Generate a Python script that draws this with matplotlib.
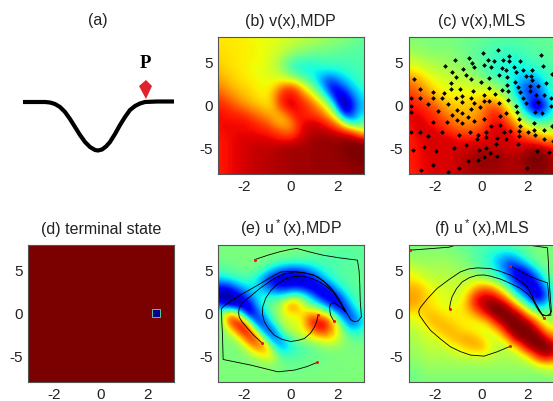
import numpy as np
import matplotlib
matplotlib.use('Agg')
import matplotlib.pyplot as plt

plt.rcParams['font.family'] = ['Liberation Sans', 'DejaVu Sans']
plt.rcParams['mathtext.default'] = 'regular'

FIG_W, FIG_H = 553, 401
x_range = [-np.pi, np.pi]
y_range = [-8, 8]

# cross section in panel (a), picture units
well_x = [23, 45, 50, 55, 60, 65, 70, 75, 80, 85, 90, 95, 98, 102, 106, 110, 115, 120, 125, 130, 135, 140, 145, 157, 174]
well_y = [102, 102, 102.5, 104, 107, 112, 119, 127, 135, 142, 147, 150, 150.5, 149.5, 146.5, 142, 134, 125, 117, 110,
          106, 103.5, 102, 101.5, 101.5]
marker_x = [139, 146, 152, 146]
marker_y = [86, 80, 86, 99]

# value fields, rows from y=8 down to y=-8, 25 columns from -pi to pi
v_mdp = [
    [.66, .66, .66, .66, .65, .65, .64, .64, .63, .63, .62, .61, .60, .59, .58, .57, .56, .55, .54, .53, .52, .51, .50, .48, .47],
    [.67, .67, .66, .66, .66, .65, .65, .64, .63, .62, .61, .59, .58, .56, .55, .54, .53, .52, .51, .50, .49, .48, .47, .46, .46],
    [.68, .67, .67, .66, .66, .65, .65, .64, .63, .61, .59, .56, .53, .50, .49, .48, .47, .47, .47, .46, .46, .45, .45, .45, .45],
    [.69, .68, .67, .66, .66, .65, .64, .64, .62, .59, .55, .49, .44, .42, .41, .40, .41, .42, .43, .43, .43, .44, .44, .44, .44],
    [.71, .69, .68, .67, .66, .65, .64, .63, .62, .60, .57, .52, .46, .41, .38, .37, .36, .36, .36, .37, .38, .40, .41, .43, .44],
    [.74, .72, .70, .68, .67, .66, .65, .64, .63, .63, .63, .62, .60, .56, .50, .44, .36, .28, .20, .22, .28, .33, .38, .41, .43],
    [.78, .76, .73, .71, .69, .68, .66, .65, .65, .68, .76, .84, .86, .80, .68, .58, .48, .36, .20, .10, .14, .22, .30, .36, .40],
    [.84, .81, .78, .75, .72, .70, .68, .66, .66, .72, .84, .89, .90, .88, .82, .74, .64, .52, .38, .18, .04, .08, .20, .30, .36],
    [.88, .86, .84, .81, .78, .75, .72, .70, .68, .70, .82, .90, .92, .90, .88, .84, .78, .70, .58, .40, .12, .00, .12, .26, .32],
    [.90, .89, .88, .87, .86, .83, .80, .77, .74, .72, .72, .78, .86, .90, .88, .86, .84, .80, .72, .60, .36, .14, .18, .30, .36],
    [.90, .90, .90, .90, .90, .89, .87, .84, .82, .76, .72, .71, .76, .86, .90, .92, .92, .90, .86, .80, .70, .50, .38, .40, .46],
    [.89, .90, .90, .90, .90, .90, .90, .89, .88, .86, .83, .80, .80, .86, .92, .94, .95, .95, .94, .92, .90, .88, .82, .72, .62],
    [.89, .89, .90, .91, .92, .92, .92, .92, .92, .91, .90, .90, .90, .92, .94, .96, .97, .98, .98, .98, .98, .98, .99, .98, .96],
    [.89, .89, .90, .91, .92, .93, .94, .94, .94, .95, .96, .96, .97, .97, .97, .97, .98, .98, .98, .98, .99, 1.0, 1.0, 1.0, 1.0],
    [.89, .89, .90, .91, .92, .93, .94, .94, .95, .95, .96, .96, .97, .97, .97, .97, .98, .98, .98, .98, .98, .99, 1.0, 1.0, 1.0],
    [.89, .89, .90, .91, .92, .93, .94, .94, .95, .95, .96, .96, .97, .97, .97, .97, .98, .98, .98, .98, .98, .98, .99, .99, 1.0],
    [.88, .89, .90, .91, .92, .93, .94, .94, .95, .95, .96, .96, .96, .97, .97, .97, .97, .97, .97, .97, .97, .97, .98, .98, .98],
]
v_mls = [
    [.50, .50, .50, .50, .50, .50, .50, .50, .49, .49, .48, .48, .47, .47, .46, .46, .46, .46, .46, .46, .47, .47, .47, .47, .47],
    [.52, .52, .52, .51, .50, .50, .50, .50, .49, .48, .47, .47, .46, .45, .44, .44, .43, .44, .44, .45, .45, .46, .46, .47, .47],
    [.56, .55, .54, .53, .52, .52, .52, .51, .50, .49, .48, .46, .45, .44, .42, .42, .41, .41, .42, .43, .44, .45, .45, .46, .46],
    [.60, .60, .58, .57, .56, .55, .54, .53, .52, .51, .50, .48, .46, .44, .41, .40, .39, .38, .38, .40, .42, .43, .44, .45, .45],
    [.68, .66, .64, .61, .59, .58, .57, .56, .55, .53, .52, .49, .46, .43, .41, .39, .38, .37, .36, .36, .36, .38, .41, .43, .44],
    [.76, .74, .71, .67, .64, .62, .61, .60, .59, .58, .57, .55, .53, .50, .47, .44, .42, .38, .33, .30, .28, .30, .36, .41, .43],
    [.82, .80, .76, .72, .68, .65, .63, .62, .62, .62, .62, .60, .60, .60, .56, .52, .46, .38, .28, .20, .16, .20, .30, .38, .42],
    [.86, .85, .82, .78, .74, .70, .67, .66, .66, .66, .66, .66, .68, .68, .66, .62, .54, .44, .34, .26, .20, .18, .26, .36, .42],
    [.90, .88, .87, .85, .82, .77, .73, .70, .69, .69, .70, .72, .76, .80, .80, .76, .66, .54, .42, .28, .12, .03, .10, .28, .40],
    [.90, .91, .90, .88, .86, .83, .78, .75, .73, .72, .72, .74, .78, .84, .88, .86, .76, .66, .54, .42, .32, .20, .28, .36, .42],
    [.90, .92, .92, .90, .88, .87, .84, .80, .77, .76, .76, .78, .80, .86, .90, .90, .86, .78, .68, .58, .52, .48, .46, .46, .48],
    [.88, .90, .92, .92, .92, .90, .88, .86, .84, .82, .82, .84, .86, .90, .92, .93, .92, .88, .82, .76, .70, .66, .62, .60, .60],
    [.88, .90, .90, .92, .92, .92, .92, .92, .90, .90, .90, .90, .90, .92, .92, .92, .92, .92, .90, .88, .86, .82, .78, .76, .76],
    [.88, .89, .90, .92, .92, .92, .92, .92, .92, .92, .93, .94, .94, .94, .94, .94, .93, .92, .92, .94, .96, .98, .96, .92, .90],
    [.88, .89, .90, .91, .92, .92, .92, .92, .94, .95, .96, .97, .98, .98, .98, .97, .96, .96, .97, .98, 1.0, 1.0, 1.0, .98, .96],
    [.88, .89, .90, .91, .92, .92, .92, .92, .94, .95, .96, .97, .98, .98, .98, .97, .96, .96, .96, .98, 1.0, 1.0, 1.0, .98, .96],
    [.87, .88, .90, .90, .92, .92, .92, .93, .94, .95, .96, .96, .96, .96, .96, .96, .96, .96, .96, .96, .97, .98, .98, .97, .96],
]
u_mdp = [
    [.50, .50, .50, .50, .50, .50, .50, .50, .50, .50, .50, .50, .50, .49, .49, .48, .48, .48, .48, .47, .47, .47, .47, .47, .47],
    [.50, .50, .50, .50, .50, .50, .50, .50, .50, .50, .50, .50, .50, .49, .49, .48, .47, .46, .46, .45, .45, .45, .45, .46, .46],
    [.48, .48, .49, .49, .50, .50, .50, .49, .48, .46, .44, .43, .42, .42, .42, .42, .43, .44, .44, .45, .45, .45, .46, .46, .47],
    [.44, .45, .46, .47, .48, .48, .47, .44, .38, .30, .24, .19, .16, .17, .20, .26, .32, .37, .41, .43, .45, .46, .46, .47, .47],
    [.32, .34, .37, .40, .42, .42, .38, .30, .18, .10, .06, .03, .02, .03, .05, .09, .16, .26, .34, .40, .43, .45, .46, .47, .47],
    [.12, .10, .14, .22, .30, .34, .36, .32, .24, .18, .14, .14, .16, .16, .13, .08, .05, .07, .14, .26, .36, .42, .45, .46, .47],
    [.02, .00, .02, .05, .12, .22, .32, .38, .40, .40, .40, .42, .48, .50, .44, .34, .22, .10, .05, .08, .20, .33, .41, .45, .46],
    [.22, .12, .06, .02, .02, .08, .22, .36, .44, .50, .54, .68, .76, .74, .60, .50, .44, .36, .24, .10, .08, .20, .34, .42, .45],
    [.42, .62, .72, .62, .36, .08, .12, .26, .38, .48, .54, .62, .66, .66, .68, .74, .72, .66, .58, .42, .24, .14, .22, .34, .42],
    [.46, .60, .86, .90, .88, .58, .24, .14, .24, .40, .52, .58, .60, .62, .68, .84, .92, .94, .86, .70, .50, .30, .20, .26, .36],
    [.48, .52, .62, .78, .92, .90, .66, .34, .18, .20, .38, .52, .58, .60, .64, .72, .82, .88, .82, .72, .60, .46, .38, .38, .42],
    [.50, .50, .52, .56, .68, .84, .88, .72, .44, .26, .24, .34, .42, .50, .54, .58, .60, .64, .66, .64, .58, .52, .48, .47, .47],
    [.50, .50, .50, .50, .54, .62, .74, .78, .72, .50, .34, .32, .38, .42, .44, .46, .48, .50, .52, .52, .52, .50, .50, .50, .50],
    [.50, .50, .50, .50, .50, .52, .56, .60, .64, .62, .50, .44, .44, .45, .46, .47, .48, .48, .49, .49, .50, .50, .50, .50, .50],
    [.50, .50, .50, .50, .50, .50, .50, .51, .52, .52, .50, .49, .48, .48, .48, .49, .49, .49, .50, .50, .50, .50, .50, .50, .50],
    [.50, .50, .50, .50, .50, .50, .50, .50, .50, .50, .49, .49, .49, .49, .49, .49, .49, .50, .50, .50, .50, .50, .50, .50, .50],
    [.50, .50, .50, .50, .50, .50, .50, .50, .50, .50, .50, .50, .50, .50, .50, .50, .50, .50, .50, .50, .50, .50, .50, .50, .50],
]
u_mls = [
    [.50, .50, .50, .50, .50, .50, .50, .49, .48, .47, .46, .45, .44, .44, .44, .44, .45, .46, .47, .48, .49, .50, .50, .50, .50],
    [.52, .52, .52, .52, .52, .52, .52, .51, .50, .49, .47, .45, .43, .41, .38, .36, .34, .36, .40, .44, .47, .49, .50, .50, .50],
    [.56, .55, .54, .54, .54, .54, .54, .53, .52, .51, .49, .46, .44, .40, .34, .28, .22, .20, .26, .34, .42, .47, .49, .50, .50],
    [.62, .60, .58, .57, .56, .56, .56, .55, .54, .53, .52, .49, .46, .44, .40, .32, .22, .12, .08, .12, .22, .34, .44, .48, .50],
    [.66, .66, .63, .60, .59, .58, .58, .58, .58, .58, .58, .58, .56, .52, .48, .42, .32, .20, .08, .03, .08, .18, .34, .44, .48],
    [.72, .72, .70, .66, .63, .61, .60, .60, .60, .61, .64, .72, .78, .78, .72, .62, .50, .34, .22, .16, .06, .08, .20, .36, .44],
    [.74, .74, .72, .68, .65, .63, .62, .61, .60, .64, .76, .88, .93, .94, .92, .84, .72, .56, .40, .28, .14, .06, .12, .30, .42],
    [.74, .72, .70, .68, .66, .64, .62, .62, .64, .68, .78, .90, .94, .98, 1.0, 1.0, .96, .84, .68, .52, .38, .30, .32, .40, .48],
    [.66, .66, .68, .70, .70, .68, .66, .66, .66, .66, .70, .76, .86, .94, 1.0, 1.0, 1.0, 1.0, .96, .82, .66, .56, .50, .50, .52],
    [.60, .62, .64, .68, .72, .72, .70, .68, .66, .65, .64, .64, .66, .72, .86, .96, 1.0, 1.0, 1.0, 1.0, .94, .78, .64, .58, .58],
    [.58, .58, .60, .62, .66, .70, .72, .72, .70, .68, .66, .64, .62, .62, .66, .76, .92, 1.0, 1.0, 1.0, 1.0, .98, .84, .70, .66],
    [.56, .56, .58, .60, .60, .62, .66, .70, .72, .74, .74, .72, .68, .62, .60, .62, .70, .88, .98, 1.0, 1.0, 1.0, 1.0, .92, .84],
    [.54, .54, .56, .58, .58, .58, .60, .62, .64, .68, .70, .72, .72, .66, .60, .58, .58, .62, .72, .88, .98, 1.0, 1.0, 1.0, .96],
    [.52, .54, .54, .56, .56, .56, .56, .57, .58, .59, .60, .60, .60, .60, .57, .56, .56, .56, .58, .62, .72, .86, .94, .94, .90],
    [.50, .52, .52, .54, .54, .54, .54, .54, .54, .54, .54, .54, .54, .54, .54, .54, .54, .54, .54, .55, .56, .60, .64, .66, .64],
    [.48, .50, .50, .52, .52, .52, .52, .52, .52, .52, .52, .52, .52, .52, .52, .52, .52, .52, .52, .52, .52, .52, .53, .54, .54],
    [.48, .48, .50, .50, .50, .50, .50, .50, .50, .50, .50, .50, .50, .50, .50, .50, .50, .50, .50, .50, .49, .49, .49, .50, .50],
]

# sample locations of panel (c)
sample_x = [.72, .06, 1.20, 2.59, -1.14, -.53, .29, -.39, .55, .92, 1.20, 1.69, -1.55, -.78, -.30,
            .10, .40, .91, 1.42, 2.66, -1.26, -.66, 1.08, 1.52, 1.82, 2.20, 3.05, -1.08, -.46, .33,
            .77, 1.10, 1.95, 2.15, -2.89, -1.29, -.01, 1.13, 1.47, 2.18, 2.79, -2.64, -1.32, -.92, .32,
            .91, 1.16, 1.58, 2.11, 2.47, -2.10, -1.62, -.36, .12, .58, 1.68, 2.11, 2.38, 2.70, -3.02,
            -2.64, -2.10, -1.69, -1.08, -.82, -.43, 1.17, 1.79, 3.01, -2.31, -1.43, -.82, -.32, .13, .33,
            .77, 1.50, 1.92, 2.43, 3.01, -3.02, -1.85, -1.05, -.45, -.06, -3.03, 1.05, 2.30, 2.63, -1.26,
            -.81, -.59, .79, 1.56, -2.10, -1.49, -1.05, -.30, .13, 1.63, 2.28, -.82, -3.05, -2.64, -1.69,
            -.98, -.49, -.13, .22, .40, .81, .98, 1.24, 1.63, 1.68, 2.01, 2.28, 2.72, 3.05, -2.30,
            .19, .69, 1.05, 1.63, 2.31, 2.73, 3.12, -2.46, -1.18, -.68, -.17, .22, .62, 1.58, -2.96,
            -1.95, -.10, .38, .66, .12, 2.41, 2.93, -.58, -.14, -2.10, -.94, 1.98, -2.59, -1.42]
sample_y = [6.54, 6.15, 5.76, 5.84, 5.37, 5.56, 5.37, 4.98, 5.14, 5.29, 5.18, 5.25, 4.59, 4.32, 4.47,
            4.75, 4.47, 4.40, 4.47, 4.59, 3.89, 3.62, 4.09, 3.93, 4.09, 4.16, 3.70, 3.31, 3.04, 3.23,
            3.58, 3.35, 3.50, 3.50, 3.04, 2.61, 2.80, 2.45, 2.80, 2.92, 2.57, 1.98, 1.91, 1.98, 2.06,
            1.79, 1.75, 2.14, 2.26, 2.33, 1.52, 1.44, 1.67, 1.21, 1.32, 1.56, 1.75, 1.28, 1.28, .82,
            .82, .86, .82, .89, 1.09, .93, .70, .89, .86, .12, .19, .39, .31, .54, .47,
            .31, -.08, .31, .43, 0, 0, -.62, -.51, -.39, -.23, -.74, -.86, -.78, -.86, -1.13,
            -.86, -1.32, -1.17, -.78, -1.91, -1.98, -1.75, -1.83, -1.56, -1.63, -2.10, -2.10, -3.07, -3.15, -3.15,
            -3.50, -3.07, -3.42, -3.15, -2.41, -2.33, -3.07, -2.92, -3.00, -2.41, -3.15, -2.88, -2.88, -2.41, -3.58,
            -3.70, -3.77, -3.97, -3.58, -3.50, -3.97, -4.16, -4.82, -4.94, -4.59, -3.97, -4.94, -4.44, -4.55, -5.14,
            -5.33, -5.25, -5.53, -5.91, -6.03, -5.33, -5.41, -6.50, -6.38, -6.93, -7.28, -7.28, -7.55, -7.82]

# terminal cell of panel (d)
terminal_x = [2.2, 2.56, 2.56, 2.2]
terminal_y = [-.39, -.39, .47, .47]

# trajectories of panel (e)
e_line1_x = [-1.55, -1.0, -.49, 0, .27, .8, 1.39, 2.1, 2.88, 2.95, 2.98, 3.0, 3.05, 2.92, 2.76, 2.60, 2.47, 2.18, 1.95,
             1.75, 1.45, 1.17, .75, .30, -.05, -.42, -.71, -1.43, -2.44, -2.85, -2.99, -2.98, -2.95, -2.92, -1.72, -.56,
             .16, .7, 1.13]
e_line1_y = [6.3, 6.8, 7.2, 7.5, 7.59, 7.2, 6.81, 6.5, 6.23, 5, 3.5, 1.5, -.39, -.85, -.97, -.75, -.19, 1.17, 2.2,
             2.92, 3.7, 4.28, 4.65, 4.86, 4.9, 4.86, 4.47, 3.3, 1.75, .95, .58, -.8, -2.33, -5.37, -6.03, -6.81,
             -6.61, -6.2, -5.72]
e_line2_x = [-1.26, -1.6, -1.86, -2.1, -2.23, -2.25, -2.23, -2.1, -1.86, -1.3, -.71, -.3, .16, .6, 1.03, 1.45, 1.75,
             2.05, 2.36, 2.13, 1.88, 1.72, 1.68, 1.69, 1.72, 1.86]
e_line2_y = [-3.39, -2.55, -1.75, -1.0, -.39, .1, .58, 1.2, 1.75, 3.0, 4.09, 4.6, 4.86, 4.75, 4.47, 3.7, 2.92,
             1.7, .19, .78, 1.25, 1.1, .78, .3, -.19, -.9]
e_line3_x = [1.18, 1.13, 1.03, .85, .59, .3, -.01, -.4, -.71, -.95, -1.14, -1.22, -1.21, -1.08, -.85, -.55, -.2, .12,
             .45, .85, 1.24, 1.55, 1.82, 2.1, 2.36]
e_line3_y = [-.12, -.85, -1.56, -2.3, -2.92, -3.15, -3.27, -3.0, -2.53, -1.8, -.97, -.1, .78, 1.8, 2.72, 3.5, 4.09, 4.3,
             4.36, 4.15, 3.7, 3.15, 2.53, 1.45, .19]
e_start_x = [-1.55, 1.13, -1.26, 1.86, 1.18]
e_start_y = [6.3, -5.72, -3.39, -.9, -.12]

# trajectories of panel (f)
f_line1_x = [-3.09, -1.40, -1.11, -.5, 1.5, 2.07, 2.86, 2.90, 2.93, 2.98, 3.03, 2.92, 2.79, 2.63, 2.50, 2.28, 1.99, 1.65,
             1.27, .85, .40, -.17, -.55, -.90, -1.40, -1.91, -2.30, -2.63, -2.70, -2.67, -2.45, -2.20, -1.75, -1.33, -.90,
             -.46, .12, .69, 1.23]
f_line1_y = [7.39, 7.74, 7.98, 8.5, 8.5, 7.98, 7.67, 6, 3.89, 2, .19, -.15, -.27, -.1, .39, 1.56, 3.11, 3.85,
             4.47, 4.9, 5.25, 5.33, 5.2, 4.86, 3.95, 2.92, 1.8, .7, .25, -.19, -1.05, -1.95, -3.0, -3.89, -4.45,
             -4.86, -4.98, -4.47, -3.85]
f_line2_x = [1.23, 1.6, 1.99, 2.45, 2.86, 2.90, 2.93, 2.97, 3.01, 2.85, 2.64, 2.50, 2.38, 2.28, 2.21]
f_line2_y = [5.56, 5.05, 4.47, 3.95, 3.58, 2.6, 1.56, .6, -.19, -.25, -.19, .25, .78, 1.35, 1.95]
f_line3_x = [-1.37, -1.33, -1.26, -1.07, -.82, -.5, -.17, .12, .40, .85, 1.27, 1.65, 1.99, 2.22, 2.43, 2.58, 2.69]
f_line3_y = [.58, 1.25, 1.95, 2.9, 3.7, 4.2, 4.47, 4.5, 4.36, 4.0, 3.5, 3.0, 2.33, 1.6, .78, .1, -.47]
f_start_x = [-3.09, 1.23, 1.23, -1.37, 2.69]
f_start_y = [7.39, 5.56, -3.85, .58, -.47]


def add_panel(left, top, title, field=None):
    # left, top are in pixels of the final picture
    ax = plt.axes([left / FIG_W, 1 - (top + 137) / FIG_H, 145.5 / FIG_W, 137 / FIG_H])
    if field is not None:
        field = np.array(field)
        # grid values sit on the nodes, so the image reaches half a cell past the axes
        half_x = (x_range[1] - x_range[0]) / (field.shape[1] - 1) / 2
        half_y = (y_range[1] - y_range[0]) / (field.shape[0] - 1) / 2
        ax.imshow(field, cmap='jet', vmin=0, vmax=1, aspect='auto', interpolation='bicubic',
                  extent=[x_range[0] - half_x, x_range[1] + half_x, y_range[0] - half_y, y_range[1] + half_y])
    ax.set_xlim(x_range)
    ax.set_ylim(y_range)
    ax.set_xticks([-2, 0, 2])
    ax.set_yticks([-5, 0, 5])
    ax.set_xticklabels(['-2', '0', '2'])
    ax.set_yticklabels(['-5', '0', '5'])
    ax.tick_params(length=0, labelsize=11, pad=4, colors='#222222')
    for spine in ax.spines.values():
        spine.set_color('#555555')
        spine.set_linewidth(0.8)
    ax.set_title(title, fontsize=11.5, pad=8, color='#222222')
    return ax


def add_lines(ax, lines, start_x, start_y):
    for line_x, line_y in lines:
        ax.plot(line_x, line_y, color='black', lw=0.6, solid_joinstyle='round')
    ax.plot(start_x, start_y, 'o', color='#e8141c', ms=2.2, mew=0)


fig = plt.figure(figsize=(FIG_W / 100, FIG_H / 100), dpi=100)

# (a)
ax_a = plt.axes([0, 1 - 200 / FIG_H, 200 / FIG_W, 200 / FIG_H])
ax_a.set_xlim(0, 200)
ax_a.set_ylim(200, 0)
ax_a.axis('off')
ax_a.plot(well_x, well_y, color='black', lw=3, solid_capstyle='butt', solid_joinstyle='round')
ax_a.fill(marker_x, marker_y, color='#e1212e', lw=0)
ax_a.text(145, 64, 'P', family='Liberation Serif', weight='bold', fontsize=13.5, ha='center', va='center')
ax_a.text(98, 20, '(a)', fontsize=11.5, ha='center', va='center', color='#222222')

add_panel(218, 37, '(b) v(x),MDP', v_mdp)
ax_c = add_panel(408.5, 37, '(c) v(x),MLS', v_mls)
ax_c.plot(sample_x, sample_y, 'D', color='black', ms=2.4, mew=0)

# (d) everything is terminal cost except for one cell
ax_d = add_panel(28, 245, '(d) terminal state')
ax_d.set_facecolor('#7b0000')
ax_d.fill(terminal_x, terminal_y, facecolor='#00008f', edgecolor='#55c8a0', lw=0.7)

ax_e = add_panel(218, 245, '(e) u$^*$(x),MDP', u_mdp)
add_lines(ax_e, [(e_line1_x, e_line1_y), (e_line2_x, e_line2_y), (e_line3_x, e_line3_y)], e_start_x, e_start_y)

ax_f = add_panel(408.5, 245, '(f) u$^*$(x),MLS', u_mls)
add_lines(ax_f, [(f_line1_x, f_line1_y), (f_line2_x, f_line2_y), (f_line3_x, f_line3_y)], f_start_x, f_start_y)

fig.savefig('out.png', dpi=100)
